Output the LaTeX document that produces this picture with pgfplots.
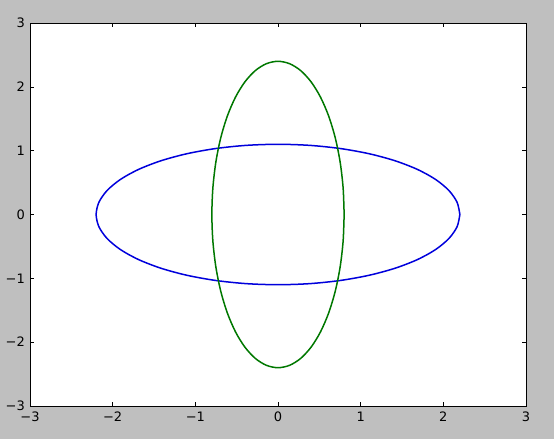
\documentclass[border=0pt]{standalone}
\usepackage{fontspec}
\setmainfont{DejaVu Sans}
\usepackage{pgfplots}
\pgfplotsset{compat=1.18}
\definecolor{bgc}{RGB}{191,191,191}
\definecolor{mblue}{RGB}{0,0,220}
\definecolor{mgreen}{RGB}{0,120,0}
\begin{document}
\begin{tikzpicture}[x=1pt,y=1pt]
\useasboundingbox (0,0) rectangle (554,439);
\fill[bgc] (0,0) rectangle (554,439);
\begin{axis}[
  at={(30pt,33pt)}, anchor=south west,
  scale only axis, width=496pt, height=383pt,
  xmin=-3, xmax=3, ymin=-3, ymax=3,
  axis background/.style={fill=white},
  axis line style={black, line width=0.9pt},
  xtick={-3,-2,-1,0,1,2,3},
  ytick={-3,-2,-1,0,1,2,3},
  xticklabels={−3,−2,−1,0,1,2,3},
  yticklabels={−3,−2,−1,0,1,2,3},
  tick align=inside,
  major tick length=4pt,
  tick style={black, line width=0.5pt},
  ticklabel style={font=\fontsize{13}{15}\selectfont, inner sep=0pt},
  xticklabel shift=6pt,
  yticklabel shift=5pt,
  clip=false,
]
\addplot[mblue, line width=1.5pt, smooth, mark=none] coordinates {
(2.2,0) (2.1666,0.1910) (2.0673,0.3762) (1.9053,0.55) (1.6853,0.7071) (1.4141,0.8426) (1.1,0.9526) (0.7524,1.0337) (0.3820,1.0833) (0,1.1)
(-0.3820,1.0833) (-0.7524,1.0337) (-1.1,0.9526) (-1.4141,0.8426) (-1.6853,0.7071) (-1.9053,0.55) (-2.0673,0.3762) (-2.1666,0.1910) (-2.2,0)
(-2.1666,-0.1910) (-2.0673,-0.3762) (-1.9053,-0.55) (-1.6853,-0.7071) (-1.4141,-0.8426) (-1.1,-0.9526) (-0.7524,-1.0337) (-0.3820,-1.0833) (0,-1.1)
(0.3820,-1.0833) (0.7524,-1.0337) (1.1,-0.9526) (1.4141,-0.8426) (1.6853,-0.7071) (1.9053,-0.55) (2.0673,-0.3762) (2.1666,-0.1910) (2.2,0)
};
\addplot[mgreen, line width=1.5pt, smooth, mark=none] coordinates {
(0.8,0) (0.7878,0.4167) (0.7518,0.8208) (0.6928,1.2) (0.6128,1.5427) (0.5142,1.8384) (0.4,2.0785) (0.2736,2.2553) (0.1389,2.3635) (0,2.4)
(-0.1389,2.3635) (-0.2736,2.2553) (-0.4,2.0785) (-0.5142,1.8384) (-0.6128,1.5427) (-0.6928,1.2) (-0.7518,0.8208) (-0.7878,0.4167) (-0.8,0)
(-0.7878,-0.4167) (-0.7518,-0.8208) (-0.6928,-1.2) (-0.6128,-1.5427) (-0.5142,-1.8384) (-0.4,-2.0785) (-0.2736,-2.2553) (-0.1389,-2.3635) (0,-2.4)
(0.1389,-2.3635) (0.2736,-2.2553) (0.4,-2.0785) (0.5142,-1.8384) (0.6128,-1.5427) (0.6928,-1.2) (0.7518,-0.8208) (0.7878,-0.4167) (0.8,0)
};
\end{axis}
\end{tikzpicture}
\end{document}
